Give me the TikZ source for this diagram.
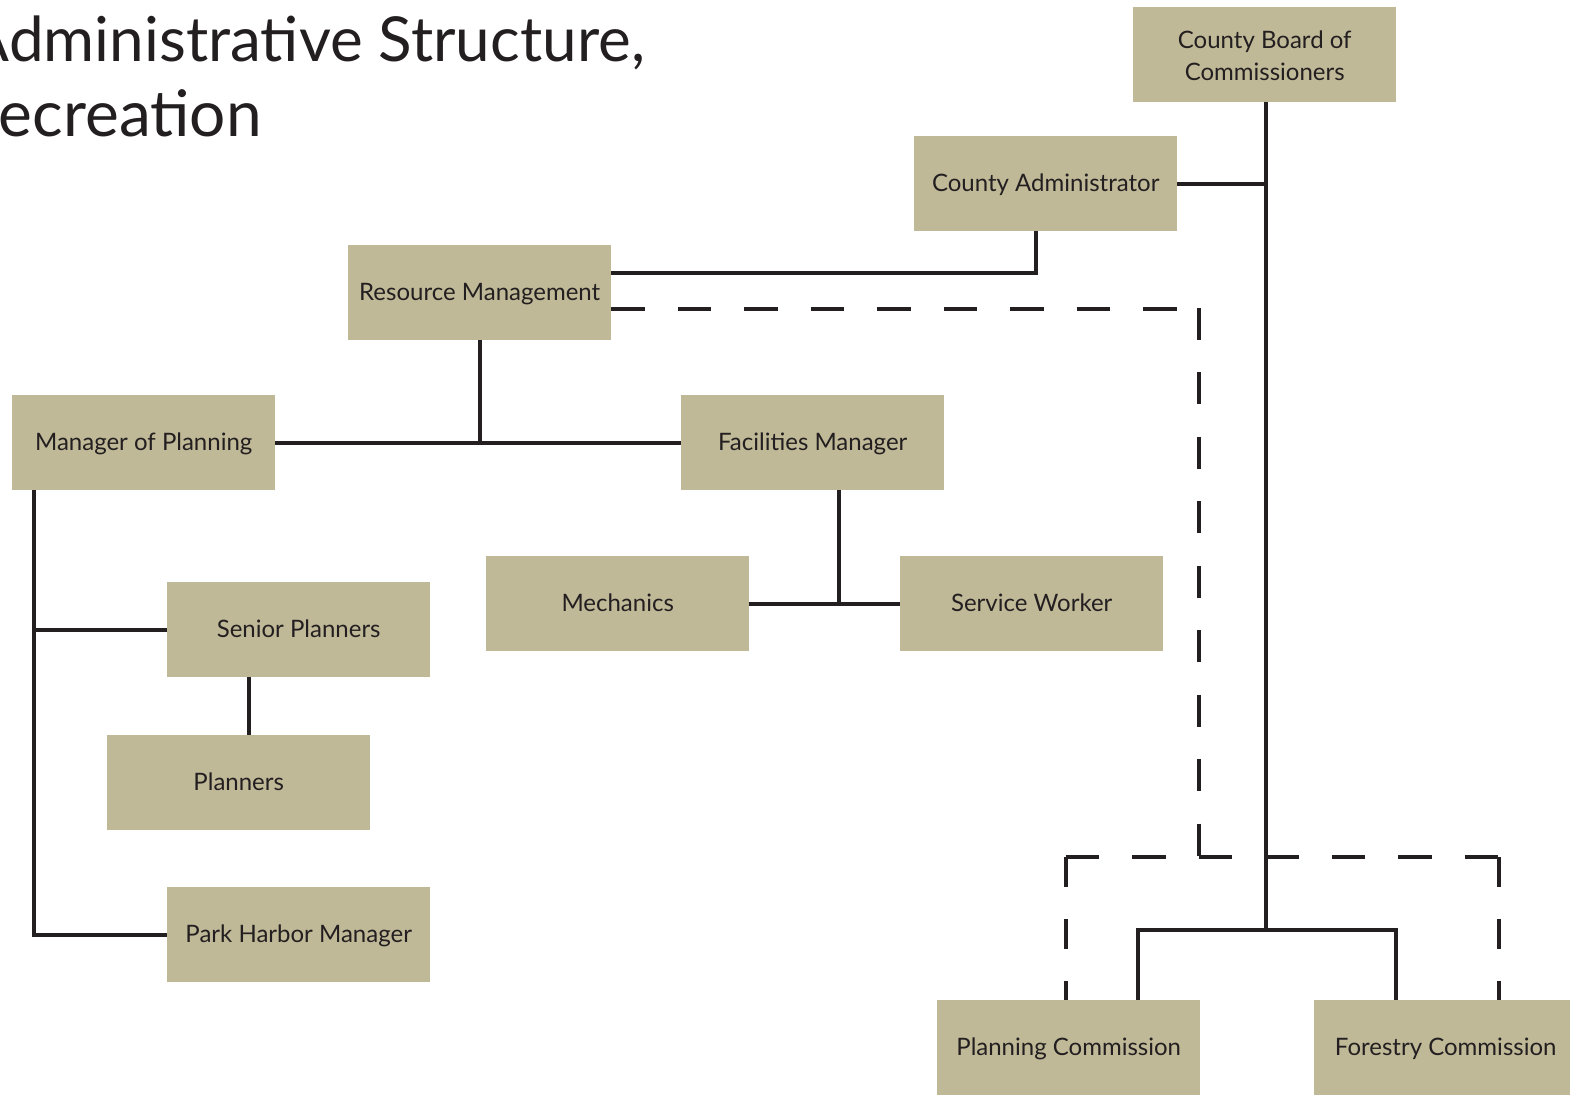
\documentclass[tikz,border=0pt]{standalone}
\usepackage{fontspec}
\setmainfont{Lato}
\newfontfamily\titlefont{Lato}
\newfontfamily\boxfont{Lato}
\definecolor{boxc}{HTML}{C0B998}
\definecolor{ink}{HTML}{231F20}
\begin{document}
\begin{tikzpicture}[x=1pt,y=-1pt,
  box/.style={fill=boxc, minimum width=263pt, minimum height=95pt, inner sep=0pt,
    anchor=north west, font=\boxfont\fontsize{24}{32}\selectfont, text=ink, align=center,
    text height=17pt, text depth=2pt},
  link/.style={draw=ink, line width=4pt},
  dhor/.style={draw=ink, line width=4pt, dash pattern=on 33.5pt off 33pt},
  dver/.style={draw=ink, line width=4pt, dash pattern=on 32pt off 32.5pt},
  dshort/.style={draw=ink, line width=4pt, dash pattern=on 30pt off 32pt}]
\useasboundingbox (0,0) rectangle (1570,1094);
% title
\node[anchor=base east, inner sep=0pt, text=ink, font=\titlefont\fontsize{62}{70}\selectfont] (t1) at (645,62) {Administrative Structure,};
\node[anchor=base east, inner sep=0pt, text=ink, font=\titlefont\fontsize{64}{70}\selectfont] (t2) at (262,137) {Recreation};
% boxes
\node[box, text height=51pt, text depth=0pt] (board) at (1133,7) {County Board of\\Commissioners};
\node[box] (ca) at (914,136) {County Administrator};
\node[box] (rm) at (348,245) {Resource Management};
\node[box] (mop) at (12,395) {Manager of Planning};
\node[box] (fm) at (681,395) {Facilities Manager};
\node[box] (mech) at (486,556) {Mechanics};
\node[box] (sw) at (900,556) {Service Worker};
\node[box] (sp) at (167,582) {Senior Planners};
\node[box] (pl) at (107,735) {Planners};
\node[box] (phm) at (167,887) {Park Harbor Manager};
\node[box] (pc) at (937,1000) {Planning Commission};
\node[box] (fc) at (1314,1000) {Forestry Commission};
% junction coordinates
\coordinate (bj) at (1266,930);
\coordinate (dj) at (1199,857);
\coordinate (mv) at ([xshift=22pt]mop.south west);
\coordinate (rmd) at ([yshift=-16pt]rm.east);
\coordinate (dc) at (rmd -| dj);
\coordinate (pcd) at ([xshift=-3pt]pc.north);
\coordinate (fcd) at ([xshift=53.5pt]fc.north);
% solid connectors
\draw[link] (board.south -| bj) -- (bj);
\draw[link] (ca.east) -- (ca.east -| bj);
\draw[link] ([xshift=-10pt]ca.south) |- ([yshift=20pt]rm.east);
\draw[link] (rm.south) -- (rm.south |- mop.east);
\draw[link] (mop.east) -- (fm.west);
\draw[link] ([xshift=26pt]fm.south) -- ([xshift=26pt]fm.south |- mech.east);
\draw[link] (mech.east) -- (sw.west);
\draw[link] ([xshift=-50pt]sp.south) -- ([xshift=-50pt]sp.south |- pl.north);
\draw[link] (mv) |- (phm.west);
\draw[link] (sp.west) -- (sp.west -| mv);
\draw[link] ([xshift=69pt]pc.north) |- (bj) -| ([xshift=-50pt]fc.north);
% dashed connectors
\draw[dhor] (rmd) -- (dc);
\draw[dver] ([yshift=1pt]dc) -- (dj);
\draw[dhor] (pcd |- dj) -- (fcd |- dj);
\draw[dshort] (pcd |- dj) -- (pcd);
\draw[dshort] (fcd |- dj) -- (fcd);
\end{tikzpicture}
\end{document}
